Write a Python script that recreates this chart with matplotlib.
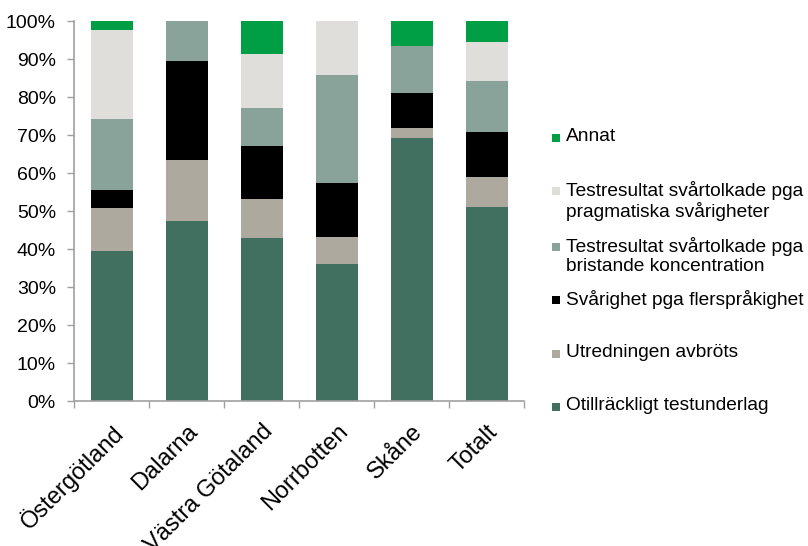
"""Stacked percentage bars: reasons per region."""
import matplotlib
matplotlib.use("Agg")
import matplotlib.pyplot as plt
from matplotlib.patches import Rectangle
from matplotlib.ticker import FixedLocator, PercentFormatter
import numpy as np

plt.rcParams['font.family'] = ['Liberation Sans', 'DejaVu Sans']

regions = ["Östergötland", "Dalarna", "Västra Götaland", "Norrbotten", "Skåne", "Totalt"]

# series in stacking order (bottom -> top), values in percent
otillrackligt = [39.5, 47.4, 42.8, 36.1, 69.3, 51.1]
avbrots = [11.2, 16.0, 10.3, 7.1, 2.5, 7.9]
flersprak = [4.8, 26.2, 14.0, 14.2, 9.2, 11.9]
koncentration = [18.6, 10.4, 10.1, 28.4, 12.4, 13.3]
pragmatiska = [23.5, 0.0, 14.2, 14.2, 0.0, 10.3]
annat = [2.4, 0.0, 8.6, 0.0, 6.6, 5.5]

series_labels = [
    "Otillräckligt testunderlag",
    "Utredningen avbröts",
    "Svårighet pga flerspråkighet",
    "Testresultat svårtolkade pga\nbristande koncentration",
    "Testresultat svårtolkade pga\npragmatiska svårigheter",
    "Annat",
]
colors = ['#417060', '#ADA99F', '#000000', '#89A29A', '#DFDEDB', '#009F45']
series = [otillrackligt, avbrots, flersprak, koncentration, pragmatiska, annat]

fig = plt.figure(figsize=(8.08, 5.46), dpi=100)
ax = fig.add_axes([74 / 808, 1 - 401 / 546, 450 / 808, 380 / 546])

x = np.arange(len(regions))
bottom = np.zeros(len(regions))
for vals, col in zip(series, colors):
    ax.bar(x, vals, bottom=bottom, width=0.56, color=col, edgecolor='none')
    bottom += np.array(vals)

ax.set_xlim(-0.5, len(regions) - 0.5)
ax.set_ylim(0, 100)
ax.yaxis.set_major_locator(FixedLocator(np.arange(0, 101, 10)))
ax.yaxis.set_major_formatter(PercentFormatter(decimals=0))

# category labels at bar centres, tick marks between categories
ax.set_xticks(x)
ax.set_xticklabels(regions, rotation=45, ha='right', rotation_mode='anchor')
ax.xaxis.set_minor_locator(FixedLocator(np.arange(-0.5, len(regions), 1)))
ax.tick_params(axis='x', which='major', length=0, pad=14, labelsize=17)
ax.tick_params(axis='x', which='minor', length=5, color='#A0A0A0', width=1)
ax.tick_params(axis='y', length=5, color='#A0A0A0', width=1, labelsize=14, pad=8)

for side in ['top', 'right']:
    ax.spines[side].set_visible(False)
for side in ['left', 'bottom']:
    ax.spines[side].set_color('#A0A0A0')
    ax.spines[side].set_linewidth(1.2)

# legend, drawn by hand to follow the original spacing
legend_y = [407, 354, 300, 247, 191, 138]
for lab, col, ly in zip(series_labels, colors, legend_y):
    fig.patches.append(Rectangle((552 / 808, 1 - (ly + 4) / 546), 8 / 808, 8 / 546,
                                 transform=fig.transFigure, facecolor=col,
                                 edgecolor='none'))
    fig.text(566 / 808, 1 - (ly - 10) / 546, lab, ha='left', va='top',
             fontsize=13.8, linespacing=1.15)

fig.savefig("out.png", dpi=100)
